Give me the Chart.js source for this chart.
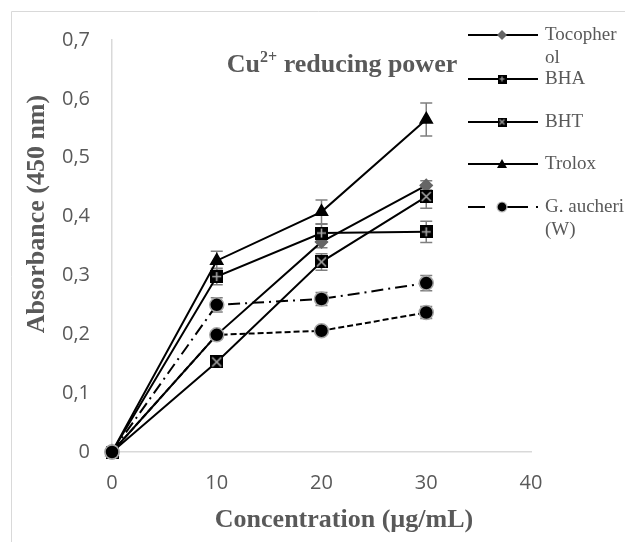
<!DOCTYPE html>
<html>
<head>
<meta charset="utf-8">
<script src="https://cdn.jsdelivr.net/npm/chart.js@4"></script>
<style>
  html, body { margin: 0; padding: 0; background: #fff; }
  #wrap { position: relative; width: 625px; height: 542px; }
</style>
</head>
<body>
<div id="wrap"><canvas id="chart" width="625" height="542"></canvas></div>
<script>
const concentrations = [0, 10, 20, 30];

const tocopherol = [0, 0.199, 0.357, 0.453];
const bha = [0, 0.298, 0.372, 0.374];
const bht = [0, 0.153, 0.323, 0.434];
const trolox = [0, 0.325, 0.408, 0.565];
const aucheriW = [0, 0.250, 0.260, 0.287];
const aucheriE = [0, 0.199, 0.206, 0.237];

const tocopherolErr = [0, 0.005, 0.010, 0.008];
const bhaErr = [0, 0.014, 0.015, 0.018];
const bhtErr = [0, 0.005, 0.014, 0.020];
const troloxErr = [0, 0.016, 0.020, 0.028];
const aucheriWErr = [0, 0.012, 0.011, 0.013];
const aucheriEErr = [0, 0.007, 0.006, 0.010];

const yTicks = [0, 0.1, 0.2, 0.3, 0.4, 0.5, 0.6, 0.7];
const xTicks = [0, 10, 20, 30, 40];

const TEXT = '#595959';
const AXIS = '#d9d9d9';
const ERR = '#7f7f7f';

// square markers drawn on small canvases
function squareMarker(size, kind) {
    const c = document.createElement('canvas');
    c.width = size; c.height = size;
    const g = c.getContext('2d');
    g.fillStyle = '#000';
    g.fillRect(0, 0, size, size);
    g.strokeStyle = '#a6a6a6';
    g.lineWidth = size > 10 ? 1.6 : 1.2;
    g.beginPath();
    if (kind === 'plus') {
        g.moveTo(size / 2, 2); g.lineTo(size / 2, size - 2);
        g.moveTo(2, size / 2); g.lineTo(size - 2, size / 2);
    } else {
        g.moveTo(2, 2); g.lineTo(size - 2, size - 2);
        g.moveTo(size - 2, 2); g.lineTo(2, size - 2);
    }
    g.stroke();
    return c;
}
const bhaMarker = squareMarker(13, 'plus');
const bhtMarker = squareMarker(13, 'cross');
const bhaLegend = squareMarker(9, 'plus');
const bhtLegend = squareMarker(9, 'cross');

function toPoints(ys) {
    return ys.map((y, i) => ({ x: concentrations[i], y: y }));
}

const seriesList = [
    { label: 'Tocopherol', legend: ['Tocopher', 'ol'], data: tocopherol, err: tocopherolErr,
      pointStyle: 'rectRot', radius: 6, bg: '#666666', border: '#666666', dash: [] },
    { label: 'BHA', legend: ['BHA'], data: bha, err: bhaErr,
      pointStyle: bhaMarker, radius: 7, bg: '#000', border: '#000', dash: [] },
    { label: 'BHT', legend: ['BHT'], data: bht, err: bhtErr,
      pointStyle: bhtMarker, radius: 7, bg: '#000', border: '#000', dash: [] },
    { label: 'Trolox', legend: ['Trolox'], data: trolox, err: troloxErr,
      pointStyle: 'triangle', radius: 7, bg: '#000', border: '#000', dash: [] },
    { label: 'G. aucheri (W)', legend: ['G. aucheri', '(W)'], data: aucheriW, err: aucheriWErr,
      pointStyle: 'circle', radius: 7, bg: '#000', border: '#a6a6a6', dash: [12, 5, 2, 5] },
    { label: 'G. aucheri (E)', legend: null, data: aucheriE, err: aucheriEErr,
      pointStyle: 'circle', radius: 7, bg: '#000', border: '#a6a6a6', dash: [6, 3] }
];

// later series sit on top, like the spreadsheet original
const datasets = seriesList.map((s, i) => ({
    label: s.label,
    data: toPoints(s.data),
    order: seriesList.length - i,
    borderColor: '#000',
    borderWidth: 2,
    borderDash: s.dash,
    tension: 0,
    fill: false,
    clip: false,
    pointStyle: s.pointStyle,
    pointRadius: s.radius,
    pointHoverRadius: s.radius,
    pointBackgroundColor: s.bg,
    pointBorderColor: s.border,
    pointBorderWidth: 1.5,
    errors: s.err
}));

const errorBars = {
    id: 'errorBars',
    beforeDatasetsDraw(chart) {
        const ctx = chart.ctx;
        const xs = chart.scales.x, ys = chart.scales.y;
        ctx.save();
        ctx.strokeStyle = ERR;
        ctx.lineWidth = 1.5;
        chart.data.datasets.forEach(ds => {
            ds.data.forEach((p, i) => {
                const e = ds.errors[i];
                if (!e) return;
                const px = xs.getPixelForValue(p.x);
                const top = ys.getPixelForValue(p.y + e);
                const bot = ys.getPixelForValue(p.y - e);
                ctx.beginPath();
                ctx.moveTo(px, top); ctx.lineTo(px, bot);
                ctx.moveTo(px - 6, top); ctx.lineTo(px + 6, top);
                ctx.moveTo(px - 6, bot); ctx.lineTo(px + 6, bot);
                ctx.stroke();
            });
        });
        ctx.restore();
    }
};

const decorations = {
    id: 'decorations',
    beforeDraw(chart) {
        const ctx = chart.ctx;
        ctx.save();
        ctx.strokeStyle = AXIS;
        ctx.lineWidth = 1;
        ctx.beginPath();
        ctx.moveTo(11.5, 542); ctx.lineTo(11.5, 11.5); ctx.lineTo(625, 11.5);
        ctx.stroke();
        ctx.restore();
    },
    afterDraw(chart) {
        const ctx = chart.ctx;
        ctx.save();
        ctx.fillStyle = TEXT;
        ctx.textBaseline = 'alphabetic';

        // chart title with superscript
        const big = 'bold 26px "Liberation Serif"';
        const small = 'bold 16px "Liberation Serif"';
        ctx.font = big;
        const w1 = ctx.measureText('Cu').width;
        const w3 = ctx.measureText(' reducing power').width;
        ctx.font = small;
        const w2 = ctx.measureText('2+').width;
        let tx = 342 - (w1 + w2 + w3) / 2;
        const ty = 72;
        ctx.font = big; ctx.fillText('Cu', tx, ty); tx += w1;
        ctx.font = small; ctx.fillText('2+', tx, ty - 10); tx += w2;
        ctx.font = big; ctx.fillText(' reducing power', tx, ty);

        // axis titles
        ctx.font = big;
        ctx.textAlign = 'center';
        ctx.fillText('Concentration (\u00b5g/mL)', 344, 527);
        ctx.translate(44, 214);
        ctx.rotate(-Math.PI / 2);
        ctx.fillText('Absorbance (450 nm)', 0, 0);
        ctx.restore();

        // legend
        ctx.save();
        const rows = [35, 79, 122, 164, 207];
        const mx = 502;
        seriesList.filter(s => s.legend).forEach((s, i) => {
            const y = rows[i];
            ctx.strokeStyle = '#000';
            ctx.lineWidth = 2;
            ctx.beginPath();
            if (s.dash.length) {
                ctx.moveTo(468, y); ctx.lineTo(485, y);
                ctx.moveTo(507, y); ctx.lineTo(528, y);
                ctx.moveTo(536, y); ctx.lineTo(538, y);
            } else {
                ctx.moveTo(468, y); ctx.lineTo(538, y);
            }
            ctx.stroke();
            if (s.pointStyle === 'rectRot') {
                ctx.fillStyle = '#666666';
                ctx.beginPath();
                ctx.moveTo(mx, y - 5); ctx.lineTo(mx + 5, y); ctx.lineTo(mx, y + 5); ctx.lineTo(mx - 5, y);
                ctx.closePath(); ctx.fill();
            } else if (s.pointStyle === 'triangle') {
                ctx.fillStyle = '#000';
                ctx.beginPath();
                ctx.moveTo(mx, y - 5); ctx.lineTo(mx + 5, y + 4); ctx.lineTo(mx - 5, y + 4);
                ctx.closePath(); ctx.fill();
            } else if (s.pointStyle === 'circle') {
                ctx.fillStyle = '#000';
                ctx.strokeStyle = '#c0c0c0';
                ctx.lineWidth = 1.2;
                ctx.beginPath(); ctx.arc(mx, y, 5, 0, Math.PI * 2); ctx.fill(); ctx.stroke();
            } else {
                const m = s.label === 'BHA' ? bhaLegend : bhtLegend;
                ctx.drawImage(m, mx - 4.5, y - 4.5);
            }
            ctx.fillStyle = TEXT;
            ctx.font = '19px "Liberation Serif"';
            ctx.textAlign = 'left';
            ctx.textBaseline = 'middle';
            s.legend.forEach((line, k) => ctx.fillText(line, 545, y + k * 23));
        });
        ctx.restore();
    }
};

new Chart(document.getElementById('chart'), {
    type: 'line',
    data: { datasets: datasets },
    plugins: [decorations, errorBars],
    options: {
        responsive: false,
        animation: false,
        layout: { padding: { left: 0, top: 40, right: 94, bottom: 0 } },
        plugins: {
            legend: { display: false },
            tooltip: { enabled: false },
            title: { display: false }
        },
        scales: {
            x: {
                type: 'linear',
                min: 0, max: 40,
                afterFit: s => { s.height = 90; },
                afterBuildTicks: s => { s.ticks = xTicks.map(v => ({ value: v })); },
                grid: { display: false, drawTicks: false },
                border: { display: true, color: AXIS, width: 1.5 },
                ticks: {
                    color: TEXT, padding: 19,
                    font: { family: '"Open Sans"', size: 20 },
                    callback: v => String(v)
                }
            },
            y: {
                type: 'linear',
                min: 0, max: 0.7,
                afterFit: s => { s.width = 112; },
                afterBuildTicks: s => { s.ticks = yTicks.map(v => ({ value: v })); },
                grid: { display: false, drawTicks: false },
                border: { display: true, color: AXIS, width: 1.5 },
                ticks: {
                    color: TEXT, padding: 22,
                    font: { family: '"Open Sans"', size: 20 },
                    callback: v => v === 0 ? '0' : v.toFixed(1).replace('.', ',')
                }
            }
        }
    }
});
</script>
</body>
</html>
